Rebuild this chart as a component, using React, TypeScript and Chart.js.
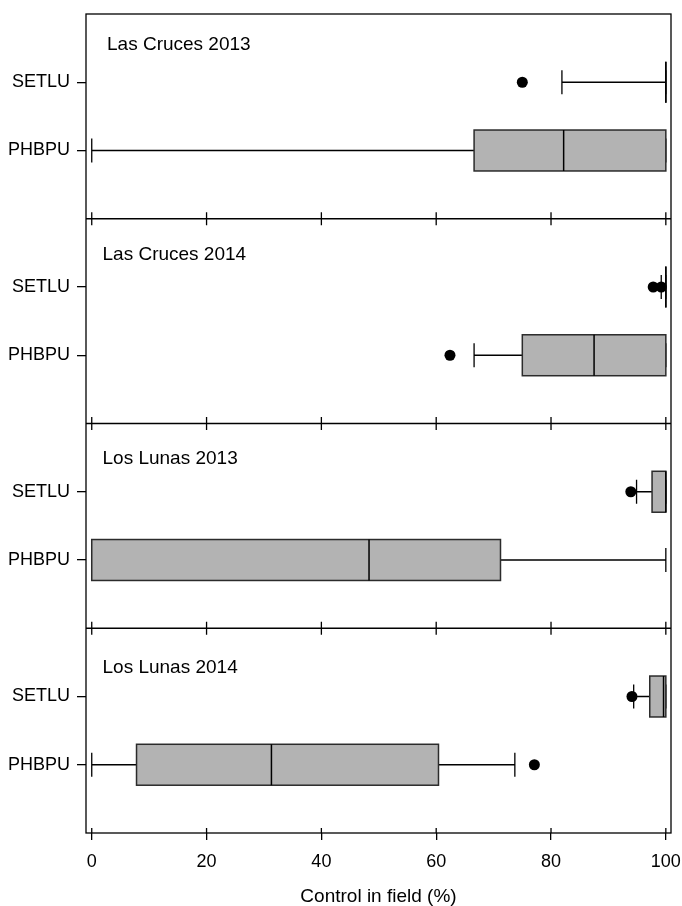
import React, { useEffect, useRef } from 'react';
import { Chart, registerables } from 'chart.js';

Chart.register(...registerables);

const panels = ['Las Cruces 2013', 'Las Cruces 2014', 'Los Lunas 2013', 'Los Lunas 2014'];
const categories = ['SETLU', 'PHBPU'];
const xTicks = [0, 20, 40, 60, 80, 100];
const axisTitle = 'Control in field (%)';

// per panel: [SETLU, PHBPU]
const whiskerLow = [[81.9, 0], [99.2, 66.6], [94.9, 0], [94.4, 0]];
const q1 = [[100, 66.6], [100, 75.0], [97.6, 0], [97.2, 7.8]];
const median = [[100, 82.2], [100, 87.5], [100, 48.3], [99.6, 31.3]];
const q3 = [[100, 100], [100, 100], [100, 71.2], [100, 60.4]];
const whiskerHigh = [[100, 100], [100, 100], [100, 100], [100, 73.7]];
const outliers = [
  [[75.0], []],
  [[97.8, 99.2], [62.4]],
  [[93.9], []],
  [[94.1], [77.1]],
];

const FONT = '"Liberation Sans", Arial, Helvetica, sans-serif';
const catY = (p: number, c: number) => p * 3 + c + 1;

const titleOffsetX = [21, 16.5, 16.5, 16.5];
const titleOffsetY = [31, 36.5, 35.5, 40];

const boxPlugin = {
  id: 'boxplots',
  beforeDatasetsDraw(chart: any) {
    const { ctx, scales } = chart;
    const x = scales.x;
    const y = scales.y;
    const hb = Math.abs(y.getPixelForValue(0.3) - y.getPixelForValue(0));
    const hc = Math.abs(y.getPixelForValue(0.176) - y.getPixelForValue(0));
    ctx.save();
    panels.forEach((_, p) => {
      categories.forEach((_, c) => {
        const yc = y.getPixelForValue(catY(p, c));
        const xl = x.getPixelForValue(whiskerLow[p][c]);
        const xa = x.getPixelForValue(q1[p][c]);
        const xm = x.getPixelForValue(median[p][c]);
        const xb = x.getPixelForValue(q3[p][c]);
        const xh = x.getPixelForValue(whiskerHigh[p][c]);
        ctx.strokeStyle = '#000';
        ctx.lineWidth = 1.3;
        ctx.beginPath();
        ctx.moveTo(xl, yc);
        ctx.lineTo(xa, yc);
        ctx.moveTo(xb, yc);
        ctx.lineTo(xh, yc);
        ctx.moveTo(xl, yc - hc);
        ctx.lineTo(xl, yc + hc);
        ctx.moveTo(xh, yc - hc);
        ctx.lineTo(xh, yc + hc);
        ctx.stroke();
        ctx.fillStyle = '#b3b3b3';
        ctx.fillRect(xa, yc - hb, xb - xa, 2 * hb);
        ctx.strokeStyle = '#2b2b2b';
        ctx.lineWidth = 1.5;
        ctx.strokeRect(xa, yc - hb, xb - xa, 2 * hb);
        ctx.strokeStyle = '#000';
        ctx.beginPath();
        ctx.moveTo(xm, yc - hb);
        ctx.lineTo(xm, yc + hb);
        ctx.stroke();
      });
    });
    ctx.restore();
  },
  afterDraw(chart: any) {
    const { ctx, chartArea, scales } = chart;
    const x = scales.x;
    const y = scales.y;
    ctx.save();
    ctx.strokeStyle = '#000';
    ctx.lineWidth = 1.3;
    ctx.strokeRect(chartArea.left, chartArea.top, chartArea.right - chartArea.left, chartArea.bottom - chartArea.top);
    ctx.beginPath();
    [3, 6, 9].forEach((d) => {
      const yd = y.getPixelForValue(d);
      ctx.moveTo(chartArea.left, yd);
      ctx.lineTo(chartArea.right, yd);
      xTicks.forEach((t) => {
        const xt = x.getPixelForValue(t);
        ctx.moveTo(xt, yd - 6.5);
        ctx.lineTo(xt, yd + 6.5);
      });
    });
    xTicks.forEach((t) => {
      const xt = x.getPixelForValue(t);
      ctx.moveTo(xt, chartArea.bottom - 5);
      ctx.lineTo(xt, chartArea.bottom);
    });
    ctx.stroke();
    ctx.fillStyle = '#000';
    ctx.font = `19px ${FONT}`;
    ctx.textAlign = 'left';
    ctx.textBaseline = 'middle';
    panels.forEach((name, p) => {
      const top = y.getPixelForValue(p * 3);
      ctx.fillText(name, chartArea.left + titleOffsetX[p], top + titleOffsetY[p]);
    });
    ctx.restore();
  },
};

export default function App() {
  const ref = useRef<HTMLCanvasElement>(null);
  useEffect(() => {
    if (!ref.current) return;
    const points = outliers.flatMap((panel, p) =>
      panel.flatMap((vals, c) => vals.map((v) => ({ x: v, y: catY(p, c) })))
    );
    const chart = new Chart(ref.current, {
      type: 'scatter',
      data: {
        datasets: [
          {
            label: 'outliers',
            data: points,
            pointRadius: 5.5,
            pointBackgroundColor: '#000',
            pointBorderWidth: 0,
            pointBorderColor: '#000',
          },
        ],
      },
      options: {
        responsive: false,
        animation: false,
        devicePixelRatio: 1,
        layout: { padding: { left: 0, right: 11, top: 14, bottom: 0 } },
        plugins: { legend: { display: false }, tooltip: { enabled: false } },
        scales: {
          x: {
            type: 'linear',
            min: -1,
            max: 100.9,
            afterBuildTicks: (s: any) => {
              s.ticks = xTicks.map((v) => ({ value: v }));
            },
            afterFit: (s: any) => {
              s.height = 73;
              s.paddingLeft = 0;
              s.paddingRight = 0;
            },
            grid: { display: true, drawOnChartArea: false, drawTicks: true, tickLength: 7, color: '#000', lineWidth: 1.3 },
            border: { display: false },
            ticks: { padding: 11, color: '#000', font: { family: FONT, size: 18 }, maxRotation: 0, autoSkip: false },
            title: { display: true, text: axisTitle, color: '#000', font: { family: FONT, size: 19, lineHeight: 1 }, padding: { top: 0, bottom: 0 } },
          },
          y: {
            type: 'linear',
            reverse: true,
            min: 0,
            max: 12,
            afterBuildTicks: (s: any) => {
              s.ticks = panels.flatMap((_, p) => categories.map((_, c) => ({ value: catY(p, c) })));
            },
            afterFit: (s: any) => {
              s.width = 86;
              s.paddingTop = 0;
              s.paddingBottom = 0;
            },
            grid: { display: true, drawOnChartArea: false, drawTicks: true, tickLength: 9, color: '#000', lineWidth: 1.3 },
            border: { display: false },
            ticks: {
              padding: 7,
              color: '#000',
              autoSkip: false,
              font: { family: FONT, size: 18 },
              callback: (v: any) => categories[(Math.round(Number(v)) % 3) - 1],
            },
          },
        },
      },
      plugins: [boxPlugin],
    });
    return () => chart.destroy();
  }, []);
  return (
    <div style={{ position: 'fixed', left: 0, top: 0, width: 682, height: 906, background: '#fff' }}>
      <canvas ref={ref} width={682} height={906} style={{ display: 'block' }} />
    </div>
  );
}
